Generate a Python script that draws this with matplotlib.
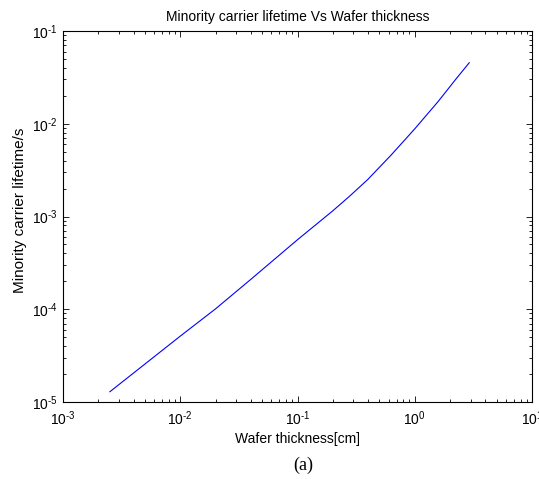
import matplotlib
matplotlib.use("Agg")
import matplotlib.pyplot as plt
import numpy as np
from matplotlib.ticker import LogLocator, NullFormatter, FuncFormatter

plt.rcParams['font.family'] = ['Liberation Sans', 'DejaVu Sans']
plt.rcParams['mathtext.fontset'] = 'custom'
plt.rcParams['mathtext.rm'] = 'Liberation Sans'
plt.rcParams['mathtext.it'] = 'Liberation Sans'

# Data
thickness_cm = [2.51e-3, 1.0e-2, 2.0e-2, 3.98e-2, 1.0e-1, 1.995e-1, 2.818e-1,
                3.98e-1, 6.31e-1, 1.0, 1.585, 2.239, 2.917]
lifetime_s = [1.29e-5, 5.13e-5, 1.01e-4, 2.09e-4, 5.62e-4, 1.148e-3, 1.68e-3,
              2.51e-3, 4.62e-3, 8.81e-3, 1.74e-2, 3.02e-2, 4.55e-2]

title = "Minority carrier lifetime Vs Wafer thickness"
xlabel = "Wafer thickness[cm]"
ylabel = "Minority carrier lifetime/s"
caption = "(a)"


def fmt(v, pos):
    e = int(round(np.log10(v)))
    if e < 0:
        return r'$10^{\text{-}%d}$' % (-e)
    return r'$10^{%d}$' % e


fig = plt.figure(figsize=(5.39, 4.79), dpi=100)
ax = fig.add_axes([63/539, 1-402/479, (532-63)/539, (402-31)/479])
ax.plot(thickness_cm, lifetime_s, color='#0000ff', lw=0.8)
ax.set_xscale('log')
ax.set_yscale('log')
ax.set_xlim(1e-3, 1e1)
ax.set_ylim(1e-5, 1e-1)
ax.xaxis.set_major_locator(LogLocator(base=10, numticks=10))
ax.yaxis.set_major_locator(LogLocator(base=10, numticks=10))
ax.xaxis.set_minor_locator(LogLocator(base=10, subs=range(2, 10), numticks=20))
ax.yaxis.set_minor_locator(LogLocator(base=10, subs=range(2, 10), numticks=20))
ax.xaxis.set_major_formatter(FuncFormatter(fmt))
ax.yaxis.set_major_formatter(FuncFormatter(fmt))
ax.xaxis.set_minor_formatter(NullFormatter())
ax.yaxis.set_minor_formatter(NullFormatter())
ax.tick_params(which='both', direction='in', top=True, right=True, labelsize=10, width=0.6)
ax.tick_params(which='major', length=4)
ax.tick_params(which='minor', length=2.5)
ax.tick_params(axis='x', which='major', pad=5)
ax.tick_params(axis='y', which='major', pad=4)
for s in ax.spines.values():
    s.set_linewidth(0.8)
ax.set_title(title, fontsize=10, pad=7)
ax.set_xlabel(xlabel, fontsize=10, labelpad=3)
ax.set_ylabel(ylabel, fontsize=11)
ax.yaxis.set_label_coords(27/539, 1-210/479, transform=fig.transFigure)
fig.text(303/539, 1-465/479, caption, fontsize=13, family='Liberation Serif', ha='center', va='center')
fig.savefig('out.png', dpi=100)
